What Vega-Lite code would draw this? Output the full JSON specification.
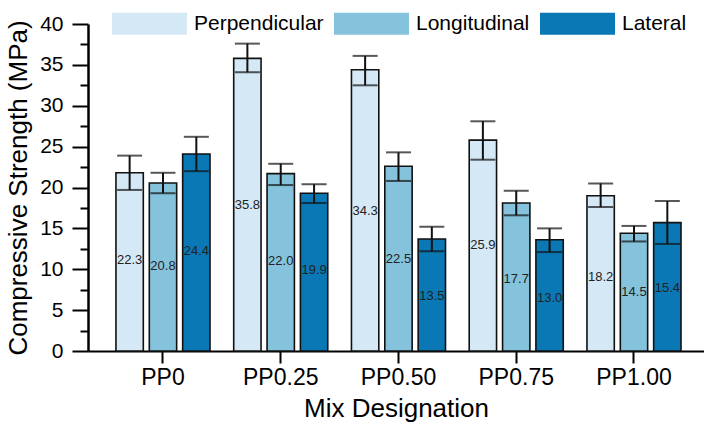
{
  "$schema": "https://vega.github.io/schema/vega-lite/v6.json",
  "width": 616,
  "height": 327,
  "autosize": {"type": "none"},
  "padding": {"left": 88, "top": 24, "right": 0, "bottom": 75},
  "background": "white",
  "config": {
    "font": "Liberation Sans",
    "view": {"stroke": null},
    "axis": {"labelColor": "black", "titleColor": "black", "titleFontWeight": "normal", "domainColor": "black", "tickColor": "black", "grid": false}
  },
  "data": {
    "values": [
      {"mix": "PP0", "dir": "Perpendicular", "value": 21.8, "lo": 19.7, "hi": 23.9, "label": 22.3},
      {"mix": "PP0", "dir": "Longitudinal", "value": 20.55, "lo": 19.3, "hi": 21.8, "label": 20.8},
      {"mix": "PP0", "dir": "Lateral", "value": 24.1, "lo": 22.0, "hi": 26.2, "label": 24.4},
      {"mix": "PP0.25", "dir": "Perpendicular", "value": 35.8, "lo": 34.1, "hi": 37.6, "label": 35.8},
      {"mix": "PP0.25", "dir": "Longitudinal", "value": 21.7, "lo": 20.3, "hi": 22.9, "label": 22.0},
      {"mix": "PP0.25", "dir": "Lateral", "value": 19.3, "lo": 18.1, "hi": 20.4, "label": 19.9},
      {"mix": "PP0.50", "dir": "Perpendicular", "value": 34.4, "lo": 32.5, "hi": 36.1, "label": 34.3},
      {"mix": "PP0.50", "dir": "Longitudinal", "value": 22.6, "lo": 20.8, "hi": 24.3, "label": 22.5},
      {"mix": "PP0.50", "dir": "Lateral", "value": 13.7, "lo": 12.2, "hi": 15.2, "label": 13.5},
      {"mix": "PP0.75", "dir": "Perpendicular", "value": 25.8, "lo": 23.4, "hi": 28.1, "label": 25.9},
      {"mix": "PP0.75", "dir": "Longitudinal", "value": 18.1, "lo": 16.6, "hi": 19.6, "label": 17.7},
      {"mix": "PP0.75", "dir": "Lateral", "value": 13.6, "lo": 12.1, "hi": 15.0, "label": 13.0},
      {"mix": "PP1.00", "dir": "Perpendicular", "value": 19.0, "lo": 17.6, "hi": 20.5, "label": 18.2},
      {"mix": "PP1.00", "dir": "Longitudinal", "value": 14.4, "lo": 13.4, "hi": 15.3, "label": 14.5},
      {"mix": "PP1.00", "dir": "Lateral", "value": 15.7, "lo": 13.1, "hi": 18.35, "label": 15.4}
    ]
  },
  "encoding": {
    "x": {
      "field": "mix", "type": "nominal", "sort": null,
      "scale": {"paddingInner": 0.19, "paddingOuter": 0.2107, "align": 0.55},
      "axis": {"title": "Mix Designation", "titleFontSize": 26, "labelFontSize": 23, "labelAngle": 0, "tickSize": 12, "tickWidth": 2, "domainWidth": 2, "labelPadding": 3, "titlePadding": 6}
    },
    "xOffset": {
      "field": "dir", "type": "nominal", "sort": ["Perpendicular", "Longitudinal", "Lateral"],
      "scale": {"paddingInner": 0.18, "paddingOuter": 0.02}
    }
  },
  "layer": [
    {
      "encoding": {
        "y": {
          "field": "value", "type": "quantitative",
          "scale": {"domain": [0, 40], "nice": false},
          "axis": {
            "title": "Compressive Strength (MPa)", "titleFontSize": 26, "labelFontSize": 21,
            "values": [0, 2.5, 5, 7.5, 10, 12.5, 15, 17.5, 20, 22.5, 25, 27.5, 30, 32.5, 35, 37.5, 40],
            "labelExpr": "datum.value % 5 === 0 ? datum.label : ''",
            "tickSize": {"condition": {"test": "datum.value % 5 === 0", "value": 16}, "value": 8},
            "tickWidth": 2, "domainWidth": 2.5, "labelPadding": 9, "titlePadding": 8
          }
        }
      },
      "layer": [
        {
          "mark": {"type": "bar", "stroke": "#111", "strokeWidth": 1.6},
          "encoding": {
            "color": {
              "field": "dir", "type": "nominal",
              "scale": {"domain": ["Perpendicular", "Longitudinal", "Lateral"], "range": ["#d5e8f5", "#85c2dc", "#0a78b4"]},
              "legend": {
                "title": null, "orient": "none", "direction": "horizontal", "legendX": 24, "legendY": -38,
                "padding": 0, "symbolType": "M-1,-0.293H1V0.293H-1Z", "symbolSize": 5625,
                "symbolStrokeWidth": 0, "labelFontSize": 21, "labelColor": "black", "labelOffset": 7, "columnPadding": 10
              }
            }
          }
        },
        {
          "mark": {"type": "rule", "color": "#111", "strokeWidth": 2},
          "encoding": {"y": {"field": "lo"}, "y2": {"field": "hi"}}
        },
        {
          "mark": {"type": "tick", "color": "#111", "size": 25, "thickness": 2, "orient": "horizontal"},
          "encoding": {"y": {"field": "lo"}}
        },
        {
          "mark": {"type": "tick", "color": "#111", "size": 25, "thickness": 2, "orient": "horizontal"},
          "encoding": {"y": {"field": "hi"}}
        }
      ]
    },
    {
      "mark": {"type": "text", "fontSize": 13, "color": "#222", "baseline": "middle", "align": "center"},
      "encoding": {
        "y": {"field": "label", "type": "quantitative", "scale": {"domain": [0, 80], "nice": false}, "axis": null},
        "text": {"field": "label", "type": "quantitative", "format": ".1f"}
      }
    }
  ],
  "resolve": {"scale": {"y": "independent"}}
}
